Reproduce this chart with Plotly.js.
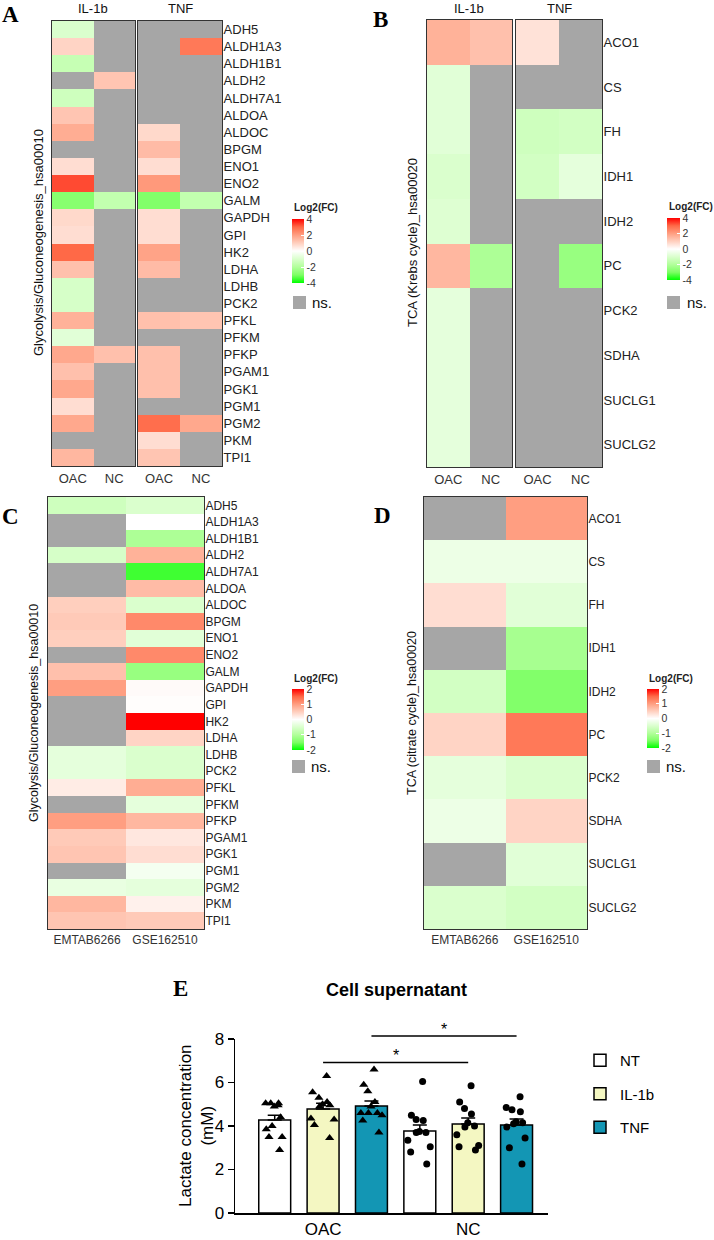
<!DOCTYPE html>
<html><head><meta charset="utf-8">
<script src="https://cdn.plot.ly/plotly-3.0.1.min.js"></script>
<style>html,body{margin:0;padding:0;background:#fff}#chart{width:714px;height:1240px}</style>
</head><body><div id="chart"></div>
<script>
// ---------------- DATA ----------------
const genesGly = ['ADH5','ALDH1A3','ALDH1B1','ALDH2','ALDH7A1','ALDOA','ALDOC','BPGM','ENO1','ENO2','GALM','GAPDH','GPI','HK2','LDHA','LDHB','PCK2','PFKL','PFKM','PFKP','PGAM1','PGK1','PGM1','PGM2','PKM','TPI1'];
const genesTCA = ['ACO1','CS','FH','IDH1','IDH2','PC','PCK2','SDHA','SUCLG1','SUCLG2'];
const sitesAB = ['OAC','NC'];
const datasetsCD = ['EMTAB6266','GSE162510'];
const stimuli = ['IL-1b','TNF'];

// Panel A (log2FC, null = ns.)
const aIL1bOAC = [-1.0, 0.9, -1.5, null, -1.3, 1.2, 1.7, null, 0.7, 3.3, -2.8, 0.8, 0.7, 3.0, 1.3, -1.1, -1.1, 1.6, -0.8, 1.8, 1.3, 1.8, 0.7, 1.8, null, 1.5];
const aIL1bNC  = [null, null, null, 1.2, null, null, null, null, null, null, -1.6, null, null, null, null, null, null, null, null, 1.3, null, null, null, null, null, null];
const aTNFOAC  = [null, null, null, null, null, null, 0.8, 1.4, 0.7, 2.1, -2.9, 0.7, 0.7, 1.9, 1.4, null, null, 1.3, null, 1.3, 1.3, 1.3, null, 2.9, 0.7, 1.2];
const aTNFNC   = [null, 2.7, null, null, null, null, null, null, null, null, -1.6, null, null, null, null, null, null, 1.2, null, null, null, null, null, 1.8, null, null];
// Panel B
const bIL1bOAC = [1.6, -0.8, -0.8, -1.0, -0.9, 1.5, -0.7, -0.7, -0.7, -0.7];
const bIL1bNC  = [1.3, null, null, null, null, -2.1, null, null, null, null];
const bTNFOAC  = [0.6, null, -1.3, -1.2, null, null, null, null, null, null];
const bTNFNC   = [null, null, -1.2, -0.7, null, -2.5, null, null, null, null];
// Panel C
const cEMTAB = [-0.65, null, null, -0.55, null, null, 0.5, 0.55, 0.5, null, 0.65, 1.0, null, null, null, -0.35, -0.35, 0.2, null, 1.0, 0.55, 0.6, null, -0.3, 0.75, 0.6];
const cGSE   = [-0.5, 0.0, -1.05, 0.8, -1.75, 0.7, -0.5, 1.2, -0.4, 1.2, -1.25, 0.05, 0.02, 2.0, 0.45, -0.5, -0.5, 0.85, -0.35, 0.75, 0.25, 0.35, -0.15, -0.35, 0.15, 0.55];
// Panel D
const dEMTAB = [null, -0.25, 0.35, null, -0.6, 0.45, -0.35, -0.25, null, -0.5];
const dGSE   = [1.0, -0.25, -0.4, -1.1, -1.45, 1.35, -0.5, 0.45, -0.4, -0.6];

const ticksAB = [-4,-2,0,2,4];
const ticksCD = [-2,-1,0,1,2];

// Panel E
const groupsE = ['OAC','NC'];
const conds = ['NT','IL-1b','TNF'];
const meanNT = [4.28, 3.77];
const meanIL1b = [4.78, 4.09];
const meanTNF = [4.92, 4.05];
const semNT = [0.22, 0.28];
const semIL1b = [0.27, 0.28];
const semTNF = [0.23, 0.27];
const ntOAC   = [5.05, 5.05, 5.05, 4.95, 4.9, 4.4, 4.0, 3.85, 3.5, 3.5, 2.9];
const il1bOAC = [6.3, 5.55, 5.3, 5.1, 5.0, 4.95, 4.9, 4.35, 4.3, 4.05, 3.45];
const tnfOAC  = [6.6, 5.9, 5.6, 5.1, 4.9, 4.6, 4.6, 4.6, 4.5, 4.25, 3.7];
const ntNC    = [6.05, 4.5, 4.3, 4.25, 3.75, 3.7, 3.7, 3.35, 3.05, 2.8, 2.25];
const il1bNC  = [5.85, 5.1, 4.8, 4.55, 4.15, 4.0, 3.95, 3.6, 3.1, 3.05, 2.9];
const tnfNC   = [5.35, 4.85, 4.75, 4.65, 4.2, 4.15, 4.1, 3.95, 3.45, 3.0, 2.25];
const sigConds = ['IL-1b','TNF'];
const sigLevels = [6.92, 8.14];

// ---------------- STYLE ----------------
const W = 714, H = 1240;
const px = v => v / W, py = v => 1 - v / H;
const FONT = 'Liberation Sans, Arial, sans-serif';
const SERIF = 'Liberation Serif, Times New Roman, serif';
const GREY = '#a6a6a6';
const scale = [[0,'rgb(0,255,0)'],[0.125,'rgb(125,255,100)'],[0.25,'rgb(178,255,155)'],[0.375,'rgb(218,255,205)'],[0.5,'rgb(255,255,255)'],[0.625,'rgb(255,207,190)'],[0.75,'rgb(255,158,129)'],[0.875,'rgb(255,105,71)'],[1,'rgb(255,0,0)']];
const condColors = ['#ffffff','#f4f7c2','#1396b4'];

const traces = [];
function heat(xa, ya, genes, cols, c1, c2, zmax, cb) {
  traces.push({type:'heatmap', x: cols, y: genes, z: genes.map((g,i)=>[c1[i], c2[i]]),
    zmin:-zmax, zmax: zmax, colorscale: scale, showscale: !!cb, colorbar: cb,
    xaxis: xa, yaxis: ya, hoverongaps:false});
  traces.push({type:'heatmap', x: cols, y: genes,
    z: genes.map((g,i)=>[c1[i]===null?1:null, c2[i]===null?1:null]),
    zmin:0, zmax:1, colorscale:[[0,GREY],[1,GREY]], showscale:false,
    xaxis: xa, yaxis: ya, hoverongaps:false});
}
function cbar(x, y, len, thick, tv) {
  return {x:px(x), xanchor:'left', y:py(y), yanchor:'top', len:len, lenmode:'pixels',
    thickness:thick, xpad:0, ypad:0, outlinewidth:0, tickvals:tv, ticktext:tv.map(String),
    ticks:'inside', ticklen:3, tickcolor:'#ffffff', tickwidth:1,
    tickfont:{family:FONT, size:10.5, color:'#333'}};
}
heat('x','y', genesGly, sitesAB, aIL1bOAC, aIL1bNC, 4, cbar(292,219,64,12,ticksAB));
heat('x2','y2', genesGly, sitesAB, aTNFOAC, aTNFNC, 4, null);
heat('x3','y3', genesTCA, sitesAB, bIL1bOAC, bIL1bNC, 4, cbar(667,218,62,13,ticksAB));
heat('x4','y4', genesTCA, sitesAB, bTNFOAC, bTNFNC, 4, null);
heat('x5','y5', genesGly, datasetsCD, cEMTAB, cGSE, 2, cbar(292,689,61,12,ticksCD));
heat('x6','y6', genesTCA, datasetsCD, dEMTAB, dGSE, 2, cbar(647,689,59,12,ticksCD));

// Panel E
const means = [meanNT, meanIL1b, meanTNF];
const sems = [semNT, semIL1b, semTNF];
const pts = [[ntOAC, ntNC],[il1bOAC, il1bNC],[tnfOAC, tnfNC]];
const gx = groupsE.map((g,i)=>i);
conds.forEach((c,k)=>{
  traces.push({type:'bar', name:c, x: gx, y: means[k], offsetgroup:c, legendgroup:c,
    marker:{color:condColors[k], line:{color:'#000', width:1.5}},
    error_y:{type:'data', array:sems[k], arrayminus:sems[k].map(()=>0), symmetric:false, color:'#000', thickness:1.5, width:7},
    xaxis:'x7', yaxis:'y7'});
});
groupsE.forEach((g,gi)=>{
  conds.forEach((c,k)=>{
    const vals = pts[k][gi];
    traces.push({type:'box', x: vals.map(()=>gi), y: vals, offsetgroup:c, name:c+' '+g,
      boxpoints:'all', jitter:0.9, pointpos:0, fillcolor:'rgba(0,0,0,0)',
      line:{color:'rgba(0,0,0,0)', width:0},
      marker:{symbol: gi===0?'triangle-up':'circle', size: gi===0?8:7, color:'#000', line:{width:0}},
      showlegend:false, xaxis:'x7', yaxis:'y7', hoverinfo:'y'});
  });
});
const annotations = [];
sigConds.forEach((c,s)=>{
  const k = conds.indexOf(c);
  const off = (k - (conds.length-1)/2) / conds.length;
  const xs = gx.map(v=>v+off);
  traces.push({type:'scatter', mode:'lines', x: xs, y: xs.map(()=>sigLevels[s]),
    line:{color:'#000', width:1.5}, showlegend:false, hoverinfo:'skip', xaxis:'x7', yaxis:'y8'});
  annotations.push({xref:'x7', yref:'y8', x:(xs[0]+xs[1])/2, y:sigLevels[s], text:'*', showarrow:false,
    yanchor:'bottom', yshift:-4, font:{family:FONT, size:16, color:'#000'}});
});

// ---------------- LAYOUT ----------------
const dom = (a,b)=>[px(a), px(b)];
const domY = (top,bot)=>[py(bot), py(top)];
function hx(d, anchor, size) {
  return {domain:d, anchor:anchor, type:'category', range:[-0.5,1.5], showline:true, mirror:true,
    linecolor:'#333', linewidth:1, ticks:'', showgrid:false, zeroline:false, fixedrange:true,
    tickfont:{family:FONT, size:size, color:'#333'}};
}
function hy(d, anchor, n, labels, size) {
  return {domain:d, anchor:anchor, type:'category', range:[n-0.5,-0.5], showline:true, mirror:true,
    linecolor:'#333', linewidth:1, ticks:'', showgrid:false, zeroline:false, fixedrange:true,
    side:'right', showticklabels:labels, ticklabelstandoff:-2, tickfont:{family:FONT, size:size, color:'#222'}};
}
const eTop = 1039, eBot = 1213, eMax = 8, sigTop = 1013;
const layout = {
  width:W, height:H, margin:{l:0,r:0,t:0,b:0}, paper_bgcolor:'#fff', plot_bgcolor:'rgba(0,0,0,0)',
  font:{family:FONT, color:'#000'},
  xaxis: hx(dom(52,135),'y',13), yaxis: hy(domY(21,466),'x',26,false,13),
  xaxis2: hx(dom(138,222),'y2',13), yaxis2: hy(domY(21,466),'x2',26,true,13),
  xaxis3: hx(dom(427,512),'y3',13), yaxis3: hy(domY(20,467),'x3',10,false,13),
  xaxis4: hx(dom(516,602),'y4',13), yaxis4: hy(domY(20,467),'x4',10,true,13),
  xaxis5: hx(dom(48,204),'y5',12), yaxis5: hy(domY(497,929),'x5',26,true,12),
  xaxis6: hx(dom(424,587),'y6',12), yaxis6: hy(domY(497,929),'x6',10,true,12),
  xaxis7: {domain:dom(235,548), anchor:'y7', type:'linear', range:[-0.607,1.55], tickvals:gx, ticktext:groupsE,
    showline:true, linecolor:'#000', linewidth:1.5, ticks:'', showgrid:false, zeroline:false, fixedrange:true,
    tickfont:{family:FONT, size:17, color:'#000'}},
  yaxis7: {domain:domY(eTop,eBot), anchor:'x7', range:[0,eMax], tickvals:[0,2,4,6,8], showline:true, linecolor:'#000',
    linewidth:1.5, ticks:'outside', ticklen:6, tickwidth:1.5, tickcolor:'#000', showgrid:false, zeroline:false, fixedrange:true,
    tickfont:{family:FONT, size:17, color:'#000'}},
  yaxis8: {domain:domY(sigTop,eBot), anchor:'x7', range:[0, eMax*(eBot-sigTop)/(eBot-eTop)], visible:false, fixedrange:true},
  barmode:'group', bargap:0, bargroupgap:0.34, boxmode:'group', boxgap:0, boxgroupgap:0.34,
  showlegend:true,
  legend:{x:px(580), xanchor:'left', y:py(1044), yanchor:'top', traceorder:'grouped', tracegroupgap:11,
    font:{family:FONT, size:15, color:'#000'}, bgcolor:'rgba(0,0,0,0)'},
  annotations: annotations,
  shapes: []
};
function ann(x, y, text, opt) {
  layout.annotations.push(Object.assign({xref:'paper', yref:'paper', x:px(x), y:py(y), text:text, showarrow:false,
    xanchor:'center', yanchor:'middle', font:{family:FONT, size:13, color:'#111'}}, opt||{}));
}
// panel letters
[['A',10,15],['B',380,20],['C',10,516],['D',382,515],['E',180,988]].forEach(a=>
  ann(a[1], a[2], '<b>'+a[0]+'</b>', {font:{family:SERIF, size:23, color:'#000'}}));
// headers
ann(93, 9, stimuli[0]); ann(180, 9, stimuli[1]);
ann(469, 8, stimuli[0]); ann(559, 8, stimuli[1]);
// y titles
ann(39, 243, 'Glycolysis/Gluconeogenesis_hsa00010', {textangle:-90});
ann(413, 243, 'TCA (Krebs cycle)_hsa00020', {textangle:-90});
ann(34, 713, 'Glycolysis/Gluconeogenesis_hsa00010', {textangle:-90, font:{family:FONT, size:12.5, color:'#111'}});
ann(412, 713, 'TCA (citrate cycle)_hsa00020', {textangle:-90, font:{family:FONT, size:12.5, color:'#111'}});
// legends for heatmaps
[[292,207,293,296,310],[667,206,667,296,685],[292,678,292,760,309],[647,678,647,760,664]].forEach(l=>{
  ann(l[0], l[1], '<b>Log2(FC)</b>', {xanchor:'left', font:{family:FONT, size:10, color:'#222'}});
  layout.shapes.push({type:'rect', xref:'paper', yref:'paper', x0:px(l[2]), x1:px(l[2]+13), y0:py(l[3]), y1:py(l[3]+13),
    fillcolor:GREY, line:{width:0}});
  ann(l[4], l[3]+6, 'ns.', {xanchor:'left', font:{family:FONT, size:15, color:'#111'}});
});
// Panel E texts
ann(396, 990, '<b>Cell supernatant</b>', {font:{family:FONT, size:18, color:'#000'}});
ann(196, 1126, 'Lactate concentration<br>(mM)', {textangle:-90, font:{family:FONT, size:17, color:'#000'}});

Plotly.newPlot('chart', traces, layout, {staticPlot:true});
</script></body></html>
